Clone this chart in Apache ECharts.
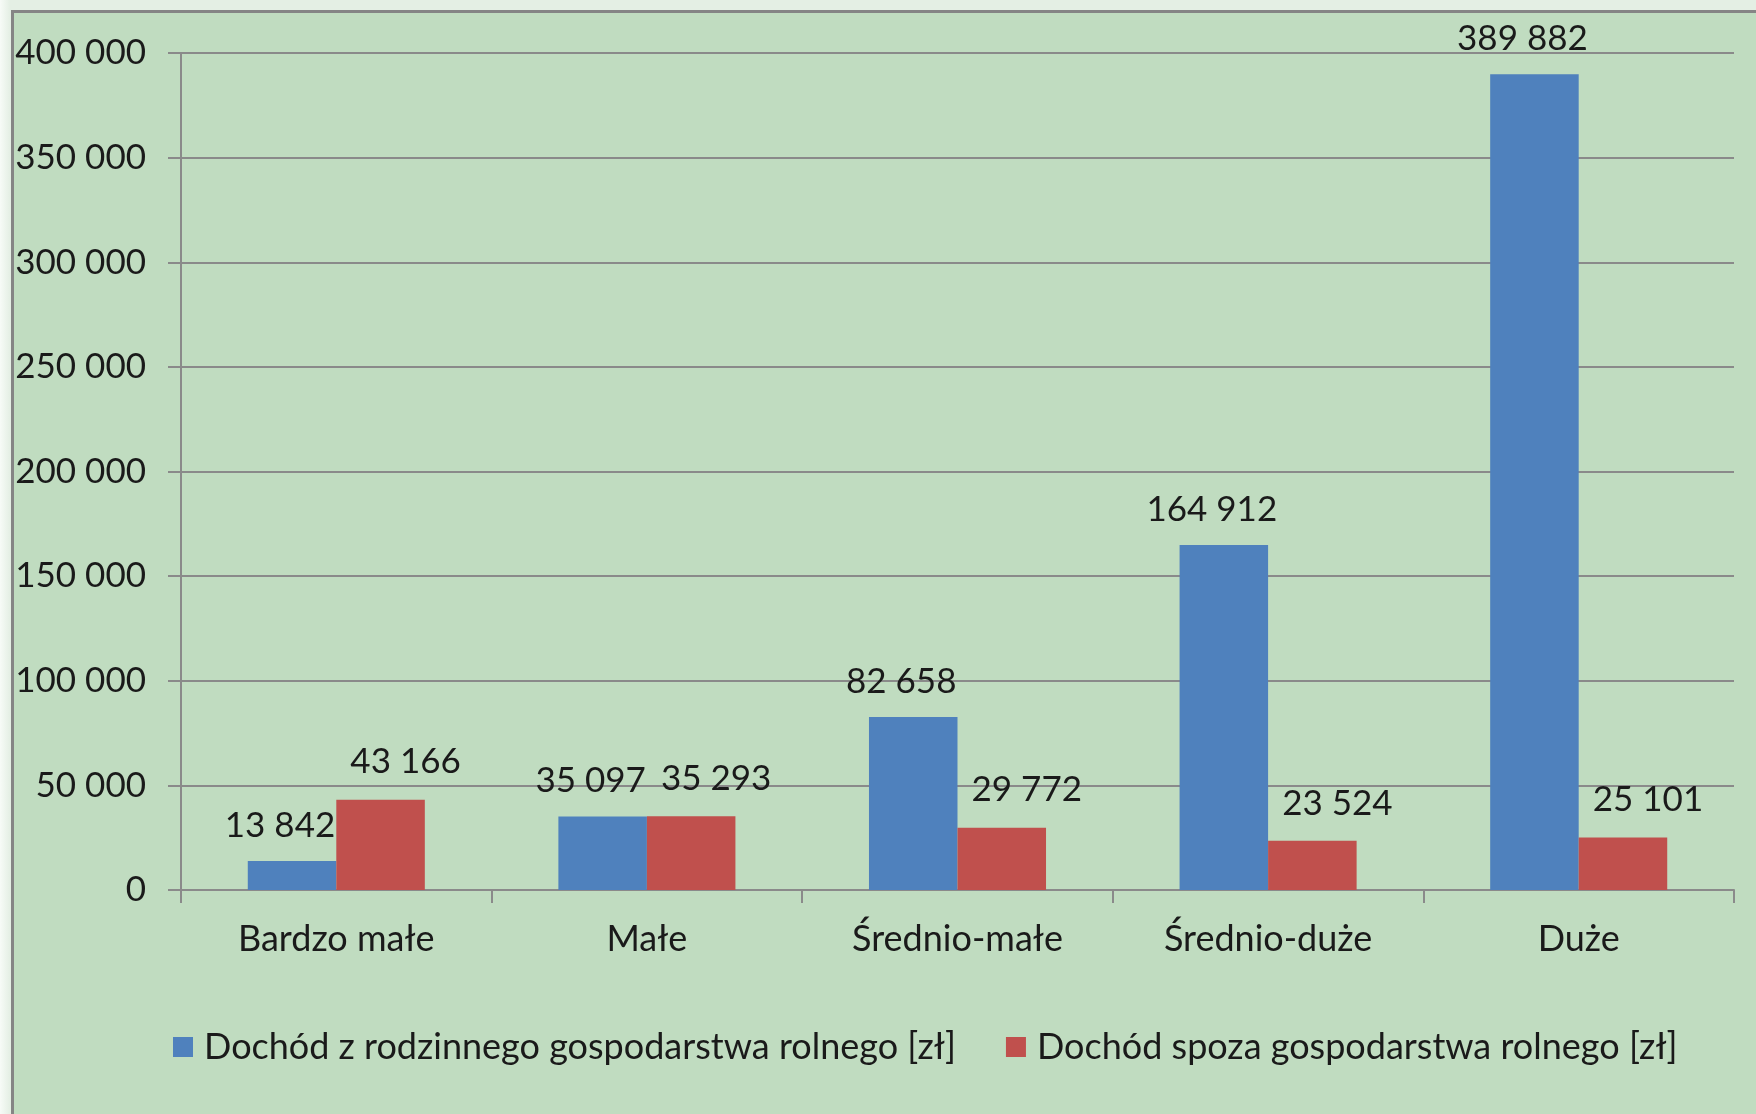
<!DOCTYPE html>
<html lang="pl">
<head>
    <meta charset="UTF-8">
    <title>Dochód gospodarstw rolnych</title>
    <style>
        body {
            margin: 0;
            width: 1756px;
            height: 1114px;
            overflow: hidden;
            background: linear-gradient(90deg, #f7fbf7 0px, #e4efe4 10px, #e4efe4 100%);
            font-family: Lato, 'Open Sans', sans-serif;
        }
        #frame {
            position: absolute;
            left: 11px;
            top: 10px;
            width: 1800px;
            height: 1200px;
            background: #c0dcc0;
            border-left: 3px solid #858585;
            border-top: 3px solid #858585;
        }
        #container {
            position: absolute;
            left: 0;
            top: 0;
            width: 1756px;
            height: 1114px;
        }
    </style>
    <script src="https://cdn.jsdelivr.net/npm/echarts@6.0.0/dist/echarts.min.js"></script>
</head>
<body>
    <div id="frame"></div>
    <div id="container"></div>
    <script>
        // dane
        var categories = ['Bardzo małe', 'Małe', 'Średnio-małe', 'Średnio-duże', 'Duże'];
        var farmIncome = [13842, 35097, 82658, 164912, 389882];
        var offFarmIncome = [43166, 35293, 29772, 23524, 25101];
        var seriesNames = ['Dochód z rodzinnego gospodarstwa rolnego [zł]', 'Dochód spoza gospodarstwa rolnego [zł]'];
        var yMin = 0, yMax = 400000, yStep = 50000;

        function fmt(v) {
            return String(v).replace(/\B(?=(\d{3})+(?!\d))/g, ' ');
        }

        document.addEventListener('DOMContentLoaded', function() {
            var myChart = echarts.init(document.getElementById('container'));
            var txt = '#1a1a1a';
            var gridColor = '#8a8a8a';

            var option = {
                backgroundColor: 'transparent',
                animation: false,
                textStyle: { fontFamily: 'Lato', color: txt },
                grid: { left: 181, right: 22, top: 53, bottom: 224 },
                legend: {
                    left: 168,
                    top: 1024,
                    icon: 'rect',
                    itemWidth: 20,
                    itemHeight: 20,
                    itemGap: 50,
                    textStyle: { fontSize: 36, color: txt, padding: [0, 0, 0, 6] },
                    data: seriesNames
                },
                xAxis: {
                    type: 'category',
                    data: categories,
                    axisLine: { lineStyle: { color: gridColor, width: 2 } },
                    axisTick: { show: true, length: 13, lineStyle: { color: gridColor, width: 2 } },
                    axisLabel: { fontSize: 36, color: txt, margin: 31 }
                },
                yAxis: {
                    type: 'value',
                    min: yMin,
                    max: yMax,
                    interval: yStep,
                    axisLine: { show: true, lineStyle: { color: gridColor, width: 2 } },
                    axisTick: { show: true, length: 13, lineStyle: { color: gridColor, width: 2 } },
                    splitLine: { lineStyle: { color: gridColor, width: 2 } },
                    axisLabel: { fontSize: 35, color: txt, margin: 35, formatter: fmt }
                },
                series: [
                    {
                        name: seriesNames[0],
                        type: 'bar',
                        data: farmIncome,
                        barGap: '0%',
                        barCategoryGap: '43%',
                        itemStyle: { color: '#4f81bd' },
                        label: {
                            show: true, position: 'top', distance: 18, offset: [-12, 0],
                            fontSize: 35, color: txt,
                            formatter: function(p) { return fmt(p.value); }
                        }
                    },
                    {
                        name: seriesNames[1],
                        type: 'bar',
                        data: offFarmIncome,
                        itemStyle: { color: '#c0504d' },
                        label: {
                            show: true, position: 'top', distance: 20, offset: [25, 0],
                            fontSize: 35, color: txt,
                            formatter: function(p) { return fmt(p.value); }
                        }
                    }
                ]
            };

            myChart.setOption(option);
        });
    </script>
</body>
</html>
